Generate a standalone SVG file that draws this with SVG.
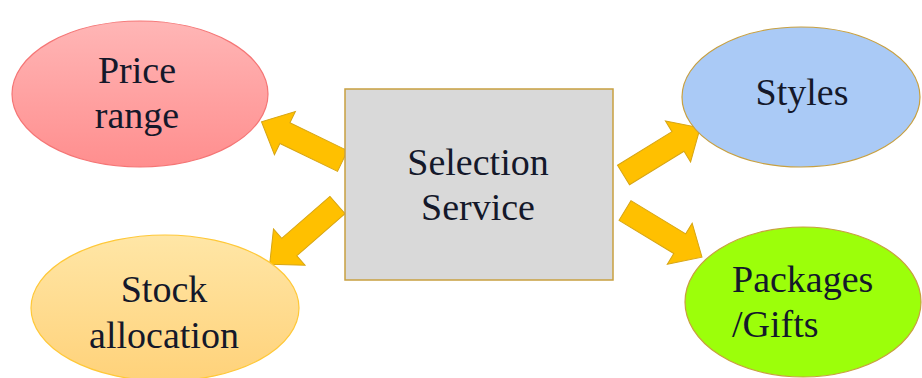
<svg xmlns="http://www.w3.org/2000/svg" width="922" height="378" viewBox="0 0 922 378" font-family="Liberation Serif">
<defs>
<linearGradient id="gPrice" x1="0" y1="0" x2="0" y2="1"><stop offset="0" stop-color="#ffb6b6"/><stop offset="1" stop-color="#ff8e8e"/></linearGradient>
<linearGradient id="gStock" x1="0" y1="0" x2="0" y2="1"><stop offset="0" stop-color="#ffe6a6"/><stop offset="1" stop-color="#ffd27a"/></linearGradient>
<path id="arr" d="M0,-11.5 L64,-11.5 L64,-24 L90,0 L64,24 L64,11.5 L0,11.5 Z"/>
</defs>
<style>
.a{fill:#ffc000;stroke:#d7a514;stroke-width:1}
</style>
<rect width="922" height="378" fill="#ffffff"/>
<g id="connectors">
<use href="#arr" class="a" transform="translate(342.5,161) rotate(-154.15)"/>
<use href="#arr" class="a" transform="translate(337.5,205) rotate(138.9)"/>
<use href="#arr" class="a" transform="translate(623.5,175) rotate(-31.6)"/>
<use href="#arr" class="a" transform="translate(625,210.5) rotate(31.2)"/>
</g>
<g id="price" font-family="Liberation Serif" font-size="38" fill="#14182a">
<ellipse cx="140" cy="94" rx="128" ry="73" fill="url(#gPrice)" stroke="#f57575" stroke-width="1.2"/>
<text x="137" y="83" text-anchor="middle" style="font-family:'Liberation Serif',serif">Price</text>
<text x="137" y="128" text-anchor="middle" style="font-family:'Liberation Serif',serif">range</text>
</g>
<g id="selection" font-family="Liberation Serif" font-size="38" fill="#14182a">
<rect x="345" y="89" width="268" height="191" fill="#d9d9d9" stroke="#c8a040" stroke-width="1.5"/>
<text x="478" y="175" text-anchor="middle" style="font-family:'Liberation Serif',serif">Selection</text>
<text x="478" y="220" text-anchor="middle" style="font-family:'Liberation Serif',serif">Service</text>
</g>
<g id="styles" font-family="Liberation Serif" font-size="38" fill="#14182a">
<ellipse cx="801" cy="97" rx="119" ry="70" fill="#aacaf6" stroke="#c8a040" stroke-width="1.2"/>
<text x="802" y="105" text-anchor="middle" style="font-family:'Liberation Serif',serif">Styles</text>
</g>
<g id="stock" font-family="Liberation Serif" font-size="38" fill="#14182a">
<ellipse cx="165" cy="308" rx="134" ry="73" fill="url(#gStock)" stroke="#ffc838" stroke-width="1.2"/>
<text x="164" y="302" text-anchor="middle" style="font-family:'Liberation Serif',serif">Stock</text>
<text x="164" y="348" text-anchor="middle" style="font-family:'Liberation Serif',serif">allocation</text>
</g>
<g id="packages" font-family="Liberation Serif" font-size="38" fill="#14182a">
<ellipse cx="803" cy="302" rx="118" ry="75" fill="#9cff0a" stroke="#c8a040" stroke-width="1.2"/>
<text x="732" y="292" style="font-family:'Liberation Serif',serif">Packages</text>
<text x="732" y="337" style="font-family:'Liberation Serif',serif">/Gifts</text>
</g>
</svg>
